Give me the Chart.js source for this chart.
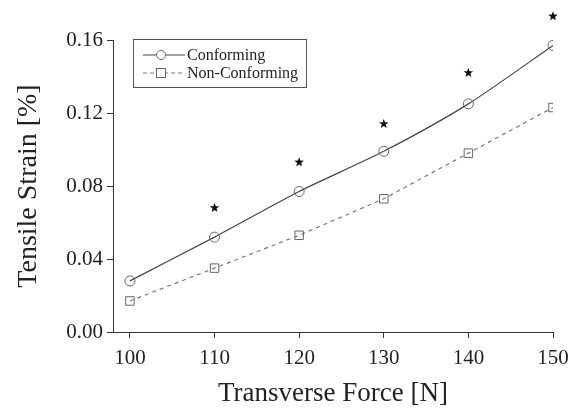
<!DOCTYPE html>
<html>
<head>
<meta charset="utf-8">
<script src="https://cdn.jsdelivr.net/npm/chart.js@4/dist/chart.umd.min.js"></script>
<style>
  html, body { margin: 0; padding: 0; background: #fff; }
  #wrap { width: 573px; height: 410px; }
</style>
</head>
<body>
<div id="wrap"><canvas id="strainChart" width="573" height="410"></canvas></div>
<script>
const forces = [100, 110, 120, 130, 140, 150];
const conforming = [0.028, 0.052, 0.077, 0.099, 0.125, 0.157];
const nonConforming = [0.017, 0.035, 0.053, 0.073, 0.098, 0.123];
const starForces = [110, 120, 130, 140, 150];
const starValues = [0.068, 0.093, 0.114, 0.142, 0.173];
const xTicks = [100, 110, 120, 130, 140, 150];
const yTicks = [0, 0.04, 0.08, 0.12, 0.16];

const serif = "'Liberation Serif', 'Times New Roman', serif";

function drawStar(ctx, cx, cy, R) {
    const r = R * 0.42;
    ctx.beginPath();
    for (let i = 0; i < 10; i++) {
        const rad = i % 2 === 0 ? R : r;
        const a = -Math.PI / 2 + i * Math.PI / 5;
        ctx.lineTo(cx + rad * Math.cos(a), cy + rad * Math.sin(a));
    }
    ctx.closePath();
    ctx.fill();
}

// significance stars, placed with the chart's own scales (last one sits above the axis top)
const starMarks = {
    id: "starMarks",
    afterDatasetsDraw(chart) {
        const { ctx, scales } = chart;
        ctx.save();
        ctx.fillStyle = "#111";
        starForces.forEach((f, i) => {
            drawStar(ctx, scales.x.getPixelForValue(f), scales.y.getPixelForValue(starValues[i]), 5);
        });
        ctx.restore();
    }
};

const boxLegend = {
    id: "boxLegend",
    afterDraw(chart) {
        const ctx = chart.ctx;
        ctx.save();
        ctx.strokeStyle = "#555";
        ctx.lineWidth = 1;
        ctx.strokeRect(133.5, 39.5, 173, 48);
        ctx.font = "16px " + serif;
        ctx.textBaseline = "middle";
        // row 1
        ctx.strokeStyle = "#444";
        ctx.beginPath(); ctx.moveTo(143, 55); ctx.lineTo(185, 55); ctx.stroke();
        ctx.fillStyle = "#fff";
        ctx.beginPath(); ctx.arc(161, 55, 4.5, 0, Math.PI * 2); ctx.fill();
        ctx.strokeStyle = "#666"; ctx.stroke();
        ctx.fillStyle = "#222";
        ctx.fillText("Conforming", 187, 56);
        // row 2
        ctx.strokeStyle = "#777";
        ctx.setLineDash([4, 3]);
        ctx.beginPath(); ctx.moveTo(143, 73); ctx.lineTo(185, 73); ctx.stroke();
        ctx.setLineDash([]);
        ctx.fillStyle = "#fff";
        ctx.fillRect(156.5, 68.5, 9, 9);
        ctx.strokeStyle = "#666";
        ctx.strokeRect(156.5, 68.5, 9, 9);
        ctx.fillStyle = "#222";
        ctx.fillText("Non-Conforming", 187, 74);
        ctx.restore();
    }
};

new Chart(document.getElementById("strainChart"), {
    type: "scatter",
    data: {
        datasets: [
            {
                label: "Conforming",
                data: forces.map((f, i) => ({ x: f, y: conforming[i] })),
                showLine: true,
                borderColor: "#444",
                borderWidth: 1.2,
                pointStyle: "circle",
                pointRadius: 5,
                pointBackgroundColor: "rgba(255,255,255,0)",
                pointBorderColor: "#666",
                pointBorderWidth: 1,
                tension: 0.25
            },
            {
                label: "Non-Conforming",
                data: forces.map((f, i) => ({ x: f, y: nonConforming[i] })),
                showLine: true,
                borderColor: "#777",
                borderWidth: 1.2,
                borderDash: [4, 4],
                pointStyle: "rect",
                pointRadius: 6,
                pointBackgroundColor: "rgba(255,255,255,0)",
                pointBorderColor: "#666",
                pointBorderWidth: 1
            }
        ]
    },
    options: {
        responsive: false,
        animation: false,
        layout: { padding: { top: 40, right: 20, left: 8, bottom: 0 } },
        plugins: { legend: { display: false }, tooltip: { enabled: false } },
        scales: {
            x: {
                type: "linear",
                min: 98,
                max: 150,
                afterBuildTicks: axis => { axis.ticks = xTicks.map(v => ({ value: v })); },
                afterFit: axis => { axis.height = 78; axis.paddingRight = 0; axis.paddingLeft = 0; },
                border: { display: true, color: "#333", width: 1 },
                grid: { drawOnChartArea: false, drawTicks: true, tickLength: 6, color: "#333" },
                ticks: { color: "#222", font: { family: serif, size: 21 }, padding: 8, maxRotation: 0 },
                title: { display: true, text: "Transverse Force [N]", color: "#222", font: { family: serif, size: 27 }, padding: { top: 6, bottom: 0 } }
            },
            y: {
                min: 0,
                max: 0.16,
                afterBuildTicks: axis => { axis.ticks = yTicks.map(v => ({ value: v })); },
                afterFit: axis => { axis.width = 105; axis.paddingTop = 0; axis.paddingBottom = 0; },
                border: { display: true, color: "#333", width: 1 },
                grid: { drawOnChartArea: false, drawTicks: true, tickLength: 6, color: "#333" },
                ticks: { color: "#222", font: { family: serif, size: 21 }, padding: 4, callback: v => v.toFixed(2) },
                title: { display: true, text: "Tensile Strain [%]", color: "#222", font: { family: serif, size: 28 }, padding: { bottom: 4 } }
            }
        }
    },
    plugins: [starMarks, boxLegend]
});
</script>
</body>
</html>
